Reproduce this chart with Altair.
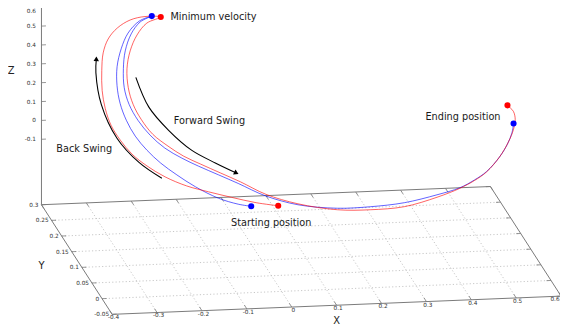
import math
import numpy as np
import pandas as pd
import altair as alt

# ---------------- axis ranges / ticks (gnuplot-style 3D box) ----------------
x_ticks = [-0.4, -0.3, -0.2, -0.1, 0.0, 0.1, 0.2, 0.3, 0.4, 0.5, 0.6]
y_ticks = [-0.05, 0.0, 0.05, 0.1, 0.15, 0.2, 0.25, 0.3]
z_ticks = [-0.1, 0.0, 0.1, 0.2, 0.3, 0.4, 0.5, 0.6]
z_base = -0.447          # level of the base plane (ticslevel)

# ---------------- swing trajectories (X, Y, Z) ----------------
blue_X = [-0.043, -0.072, -0.108, -0.151, -0.185, -0.213, -0.236, -0.254, -0.266, -0.272,
          -0.271, -0.263, -0.246, -0.226, -0.198, -0.170, -0.196, -0.219, -0.237, -0.249,
          -0.255, -0.252, -0.240, -0.221, -0.196, -0.166, -0.137, -0.100, -0.064, -0.012,
          0.058, 0.146, 0.222, 0.298, 0.374, 0.429, 0.467, 0.497, 0.532, 0.556, 0.569, 0.576]
blue_Y = [0.055, 0.055, 0.0725, 0.09, 0.1075, 0.125, 0.1425, 0.16, 0.1775, 0.195,
          0.2125, 0.23, 0.2475, 0.258, 0.265, 0.265, 0.265, 0.258, 0.2475, 0.23,
          0.2125, 0.195, 0.1775, 0.16, 0.1425, 0.125, 0.1075, 0.09, 0.0725, 0.055,
          0.048, 0.048, 0.055, 0.055, 0.062, 0.0725, 0.083, 0.09, 0.104, 0.118, 0.125, 0.132]
blue_Z = [-0.083, -0.069, -0.063, -0.028, 0.010, 0.046, 0.088, 0.135, 0.191, 0.252,
          0.317, 0.388, 0.452, 0.516, 0.565, 0.589, 0.560, 0.511, 0.440, 0.376,
          0.305, 0.245, 0.188, 0.137, 0.095, 0.068, 0.052, 0.031, 0.011, -0.030,
          -0.073, -0.100, -0.111, -0.097, -0.074, -0.060, -0.039, -0.009, 0.041, 0.084, 0.129, 0.168]

red_X = [0.014, -0.032, -0.084, -0.130, -0.174, -0.216, -0.250, -0.277, -0.295, -0.308,
         -0.313, -0.312, -0.305, -0.294, -0.275, -0.250, -0.218, -0.185, -0.150, -0.181,
         -0.206, -0.226, -0.241, -0.246, -0.243, -0.233, -0.215, -0.189, -0.162, -0.132,
         -0.096, -0.059, -0.010, 0.058, 0.146, 0.222, 0.298, 0.374, 0.429, 0.467,
         0.497, 0.532, 0.558, 0.576, 0.586, 0.585, 0.575]
red_Y = [0.048, 0.055, 0.062, 0.0725, 0.083, 0.097, 0.111, 0.125, 0.1425, 0.16,
         0.1775, 0.195, 0.2125, 0.23, 0.2475, 0.258, 0.265, 0.265, 0.265, 0.265,
         0.258, 0.2475, 0.23, 0.2125, 0.195, 0.1775, 0.16, 0.1425, 0.125, 0.1075,
         0.09, 0.0725, 0.055, 0.048, 0.048, 0.055, 0.055, 0.062, 0.0725, 0.083,
         0.09, 0.104, 0.118, 0.132, 0.146, 0.153, 0.16]
red_Z = [-0.074, -0.065, -0.043, -0.027, -0.009, 0.020, 0.058, 0.100, 0.146, 0.198,
         0.258, 0.324, 0.400, 0.464, 0.507, 0.545, 0.573, 0.588, 0.582, 0.553,
         0.504, 0.439, 0.375, 0.304, 0.244, 0.193, 0.141, 0.105, 0.078, 0.062,
         0.041, 0.019, -0.023, -0.068, -0.108, -0.127, -0.118, -0.087, -0.063, -0.042,
         -0.011, 0.041, 0.094, 0.138, 0.166, 0.197, 0.218]

# key events: index of start, minimum velocity, end in each trajectory
blue_events = [0, 15, 41]
red_events = [0, 18, 46]

# annotation arrows (drawn in the plane Y = arrow_Y)
arrow_Y = 0.195
back_X = [-0.179, -0.230, -0.279, -0.314, -0.326, -0.325]
back_Z = [-0.154, -0.065, 0.068, 0.251, 0.420, 0.494]
fwd_X = [-0.237, -0.208, -0.164, -0.113, -0.060, -0.013]
fwd_Z = [0.387, 0.226, 0.099, -0.011, -0.084, -0.142]
swing_labels = ["Back Swing", "Forward Swing"]
swing_label_X = [-0.352, -0.073]
swing_label_Z = [0.017, 0.138]

# ---------------- view (orthographic projection to page pixels) ----------------
VIEW_ORIGIN = (41.7, 205.0)     # back-left corner of base plane
VIEW_XAXIS = (452.2, -18.35)    # full X range
VIEW_YAXIS = (71.2, 110.4)      # from Y max (back) to Y min (front)
VIEW_ZSCALE = 190.0             # per unit Z
PAGE_X = [8, 564]
PAGE_Y = [8, 327]
W, H = PAGE_X[1] - PAGE_X[0], PAGE_Y[1] - PAGE_Y[0]

x0, x1 = x_ticks[0], x_ticks[-1]
y0, y1 = y_ticks[0], y_ticks[-1]
z1 = z_ticks[-1]


def proj(X, Y, Z):
    X = np.asarray(X, dtype=float)
    Y = np.asarray(Y, dtype=float)
    Z = np.asarray(Z, dtype=float)
    u = (X - x0) / (x1 - x0)
    v = (y1 - Y) / (y1 - y0)
    sx = VIEW_ORIGIN[0] + u * VIEW_XAXIS[0] + v * VIEW_YAXIS[0]
    sy = VIEW_ORIGIN[1] + u * VIEW_XAXIS[1] + v * VIEW_YAXIS[1] - (Z - z_base) * VIEW_ZSCALE
    return sx, sy


def segments(starts, ends):
    a = proj(*zip(*starts))
    b = proj(*zip(*ends))
    return pd.DataFrame({"px": a[0], "py": a[1], "px2": b[0], "py2": b[1]})


def points(X, Y, Z, **extra):
    sx, sy = proj(X, Y, Z)
    d = pd.DataFrame({"px": sx, "py": sy})
    for k, val in extra.items():
        d[k] = val
    return d


def fmt(v):
    return f"{v:g}"


XE = alt.X("px:Q", scale=alt.Scale(domain=PAGE_X, nice=False, zero=False), axis=None)
YE = alt.Y("py:Q", scale=alt.Scale(domain=PAGE_Y, nice=False, zero=False, reverse=True), axis=None)
FONT = "DejaVu Sans"

# base plane, grid, ticks
edges = segments(
    [(x0, y1, z_base), (x0, y0, z_base), (x0, y1, z_base), (x1, y1, z_base), (x0, y1, z_base)],
    [(x1, y1, z_base), (x1, y0, z_base), (x0, y0, z_base), (x1, y0, z_base), (x0, y1, z1)])
grid = segments(
    [(x, y0, z_base) for x in x_ticks[1:-1]] + [(x0, y, z_base) for y in y_ticks[1:-1]],
    [(x, y1, z_base) for x in x_ticks[1:-1]] + [(x1, y, z_base) for y in y_ticks[1:-1]])
TX, TY = 0.01, 0.012
ticks = segments(
    [(x, y0, z_base) for x in x_ticks] + [(x, y1, z_base) for x in x_ticks]
    + [(x0, y, z_base) for y in y_ticks] + [(x1, y, z_base) for y in y_ticks]
    + [(x0, y1, z) for z in z_ticks],
    [(x, y0 + TY, z_base) for x in x_ticks] + [(x, y1 - TY, z_base) for x in x_ticks]
    + [(x0 + TX, y, z_base) for y in y_ticks] + [(x1 - TX, y, z_base) for y in y_ticks]
    + [(x0 + TX, y1, z) for z in z_ticks])

grid_l = alt.Chart(grid).mark_rule(color="#b8b8b8", strokeWidth=0.8, strokeDash=[1.2, 2.2]).encode(
    x=XE, y=YE, x2="px2:Q", y2="py2:Q")
edge_l = alt.Chart(edges).mark_rule(color="#7a7a7a", strokeWidth=1).encode(
    x=XE, y=YE, x2="px2:Q", y2="py2:Q")
tick_l = alt.Chart(ticks).mark_rule(color="#7a7a7a", strokeWidth=0.8).encode(
    x=XE, y=YE, x2="px2:Q", y2="py2:Q")

xl = points(x_ticks, [y0] * len(x_ticks), [z_base] * len(x_ticks), lab=[fmt(v) for v in x_ticks])
yl = points([x0] * len(y_ticks), y_ticks, [z_base] * len(y_ticks), lab=[fmt(v) for v in y_ticks])
zl = points([x0] * len(z_ticks), [y1] * len(z_ticks), z_ticks, lab=[fmt(v) for v in z_ticks])
TF = dict(font=FONT, fontSize=5.8, color="#333333")
xl_l = alt.Chart(xl.iloc[:-1]).mark_text(align="center", baseline="middle", dx=1.5, dy=3, **TF).encode(
    x=XE, y=YE, text="lab:N")
# last X label is kept inside the right page edge
xl_last = alt.Chart(xl.iloc[-1:]).mark_text(align="right", baseline="middle", dx=-1.5, dy=3, **TF).encode(
    x=XE, y=YE, text="lab:N")
yl_l = alt.Chart(yl).mark_text(align="right", baseline="middle", dx=-3, dy=0, **TF).encode(
    x=XE, y=YE, text="lab:N")
# lower Z labels centred on their ticks; the top one hangs below the page edge
zl_l = alt.Chart(zl.iloc[:-1]).mark_text(align="right", baseline="middle", dx=-5.5, **TF).encode(
    x=XE, y=YE, text="lab:N")
zl_top = alt.Chart(zl.iloc[-1:]).mark_text(align="right", baseline="top", dx=-5.5, dy=0.5, **TF).encode(
    x=XE, y=YE, text="lab:N")

AF = dict(font=FONT, fontSize=10, color="#222222", baseline="middle", align="center")
xt_l = alt.Chart(points([0.1], [y0], [z_base], lab=["X"])).mark_text(dy=16, **AF).encode(x=XE, y=YE, text="lab:N")
yt_l = alt.Chart(points([x0], [0.125], [z_base], lab=["Y"])).mark_text(dx=-35.5, dy=6.5, **AF).encode(x=XE, y=YE, text="lab:N")
zt_l = alt.Chart(points([x0], [y1], [0.25], lab=["Z"])).mark_text(dx=-30.5, dy=-2, **AF).encode(x=XE, y=YE, text="lab:N")

# trajectories
blue = points(blue_X, blue_Y, blue_Z, series="blue", i=range(len(blue_X)))
red = points(red_X, red_Y, red_Z, series="red", i=range(len(red_X)))
traj = pd.concat([blue, red], ignore_index=True)
COL = alt.Color("series:N", scale=alt.Scale(domain=["blue", "red"], range=["#0000ff", "#ff0000"]), legend=None)
lines_l = alt.Chart(traj).mark_line(interpolate="catmull-rom", strokeWidth=1, opacity=0.62).encode(
    x=XE, y=YE, color=COL, detail="series:N", order="i:Q")

dots = pd.concat([blue.iloc[blue_events], red.iloc[red_events]], ignore_index=True)
dots_l = alt.Chart(dots).mark_circle(size=38, opacity=1).encode(x=XE, y=YE, color=COL)

# arrows
back = points(back_X, [arrow_Y] * len(back_X), back_Z, arrow="back", i=range(len(back_X)))
fwd = points(fwd_X, [arrow_Y] * len(fwd_X), fwd_Z, arrow="fwd", i=range(len(fwd_X)))
arrows = pd.concat([back, fwd], ignore_index=True)
arrow_l = alt.Chart(arrows).mark_line(interpolate="catmull-rom", color="black", strokeWidth=1.1).encode(
    x=XE, y=YE, detail="arrow:N", order="i:Q")
heads = []
for a in (back, fwd):
    dx = a.px.iloc[-1] - a.px.iloc[-2]
    dy = a.py.iloc[-1] - a.py.iloc[-2]
    heads.append({"px": a.px.iloc[-1], "py": a.py.iloc[-1],
                  "ang": math.degrees(math.atan2(dx, -dy)) % 360})
head_l = alt.Chart(pd.DataFrame(heads)).mark_point(shape="triangle-up", filled=True, size=30,
                                                   color="black", opacity=1).encode(
    x=XE, y=YE, angle=alt.Angle("ang:Q", scale=None))

# labels
LF = dict(font=FONT, fontSize=9.8, color="#1a1a1a", baseline="middle")
sw = points(swing_label_X, [arrow_Y] * 2, swing_label_Z, lab=swing_labels)
sw_l = alt.Chart(sw).mark_text(align="center", **LF).encode(x=XE, y=YE, text="lab:N")
minv_l = alt.Chart(red.iloc[[red_events[1]]].assign(lab="Minimum velocity")).mark_text(
    align="left", dx=9.7, dy=0, **LF).encode(x=XE, y=YE, text="lab:N")
end_l = alt.Chart(red.iloc[[red_events[2]]].assign(lab="Ending position")).mark_text(
    align="right", dx=-7, dy=11.7, **LF).encode(x=XE, y=YE, text="lab:N")
start_l = alt.Chart(blue.iloc[[blue_events[0]]].assign(lab="Starting position")).mark_text(
    align="left", dx=-20.3, dy=16.8, **LF).encode(x=XE, y=YE, text="lab:N")

chart = alt.layer(
    grid_l, edge_l, tick_l, xl_l, xl_last, yl_l, zl_l, zl_top, xt_l, yt_l, zt_l,
    lines_l, arrow_l, head_l, dots_l, sw_l, minv_l, end_l, start_l
).properties(
    width=W, height=H, padding=0, autosize=alt.AutoSizeParams(type="none")
).configure_view(stroke=None)

chart.save("out.html", embed_options={"renderer": "svg", "actions": False})
